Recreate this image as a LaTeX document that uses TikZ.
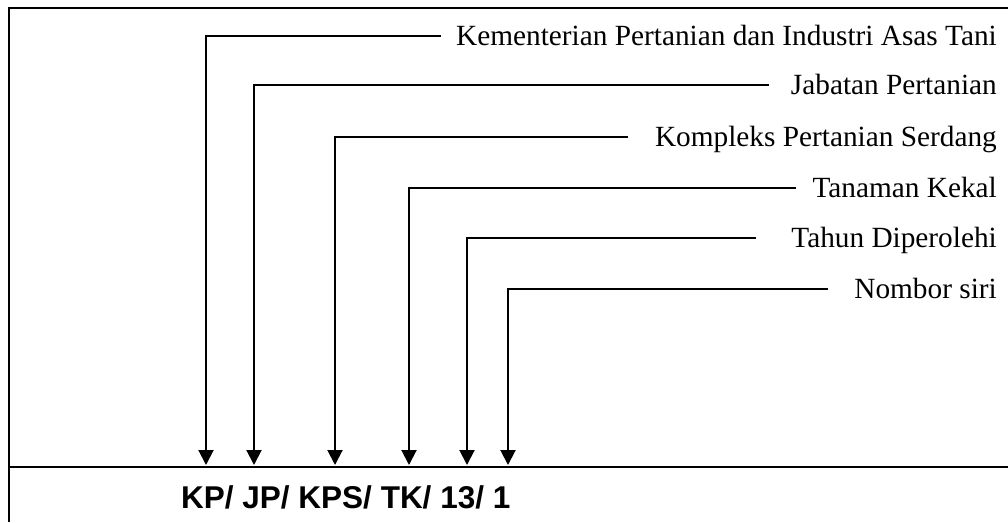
\documentclass[tikz,border=0pt]{standalone}
\usepackage{fontspec}
\setmainfont{Liberation Serif}
\newfontfamily\codefont{Liberation Sans}
\usetikzlibrary{arrows.meta}
\tikzset{
  lbl/.style={anchor=east, inner sep=0pt, text height=19.4pt, text depth=0pt,
    font=\fontsize{29.3}{35}\selectfont},
  code/.style={anchor=base west, inner sep=0pt,
    font=\codefont\bfseries\fontsize{31.5}{38}\selectfont},
  pointer/.style={line width=2pt, -{Triangle[width=15pt,length=15pt]}}
}
\begin{document}
\begin{tikzpicture}[x=1pt,y=-1pt]
\useasboundingbox (0,0) rectangle (1008,522);
% draw the frame and the horizontal line
\draw[line width=2.5pt] (1008,8) -| (9,522);
\draw[line width=2.5pt] (9,467) -- (1008,467);

% draw the code
\node[code] (code) at (181,508) {KP/ JP/ KPS/ TK/ 13/ 1};

% draw nodes for the parts of the code
\node[lbl] (kem) at (997,36) {Kementerian Pertanian dan Industri Asas Tani};
\node[lbl] (jab) at (997,85) {Jabatan Pertanian};
\node[lbl] (kom) at (997,137) {Kompleks Pertanian Serdang};
\node[lbl] (tan) at (997,188) {Tanaman Kekal};
\node[lbl] (thn) at (997,238) {Tahun Diperolehi};
\node[lbl] (nom) at (997,289) {Nombor siri};

% arrow ends on the horizontal line
\foreach \n/\x in {kp/206,jp/254,kps/335,tk/409,yr/467,no/508}
  \coordinate (\n) at (\x,465);

% draw the pointers
\draw[pointer] ([xshift=-15pt]kem.west) -| (kp);
\draw[pointer] ([xshift=-22pt]jab.west) -| (jp);
\draw[pointer] ([xshift=-27pt]kom.west) -| (kps);
\draw[pointer] ([xshift=-16pt]tan.west) -| (tk);
\draw[pointer] ([xshift=-35pt]thn.west) -| (yr);
\draw[pointer] ([xshift=-26pt]nom.west) -| (no);
\end{tikzpicture}
\end{document}
